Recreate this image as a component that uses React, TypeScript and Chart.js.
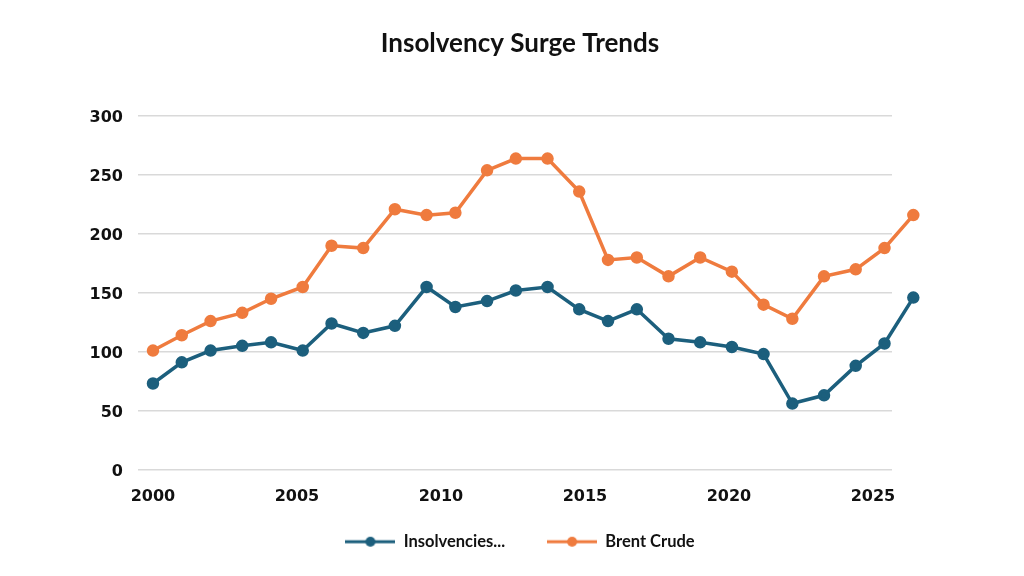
import React, { useEffect, useRef } from "react";
import { Chart, registerables } from "chart.js";

Chart.register(...registerables);

const xYears = [2000.0, 2001.0, 2002.0, 2003.1, 2004.1, 2005.2, 2006.2, 2007.3, 2008.4, 2009.5, 2010.5, 2011.6, 2012.6, 2013.7, 2014.8, 2015.8, 2016.8, 2017.9, 2019.0, 2020.1, 2021.2, 2022.2, 2023.3, 2024.4, 2025.4, 2026.4];
const insolvencies = [73, 91, 101, 105, 108, 101, 124, 116, 122, 155, 138, 143, 152, 155, 136, 126, 136, 111, 108, 104, 98, 56, 63, 88, 107, 146];
const brentCrude = [101, 114, 126, 133, 145, 155, 190, 188, 221, 216, 218, 254, 264, 264, 236, 178, 180, 164, 180, 168, 140, 128, 164, 170, 188, 216];
const xTickYears = [2000, 2005, 2010, 2015, 2020, 2025];
const seriesNames = ["Insolvencies...", "Brent Crude"];
const titleText = "Insolvency Surge Trends";

const BLUE = "#1c5f7d";
const ORANGE = "#ef7b3e";

function legendIcon(color: string): HTMLCanvasElement {
  const c = document.createElement("canvas");
  c.width = 50;
  c.height = 12;
  const ctx = c.getContext("2d")!;
  ctx.strokeStyle = color;
  ctx.lineWidth = 3;
  ctx.beginPath();
  ctx.moveTo(0, 6);
  ctx.lineTo(50, 6);
  ctx.stroke();
  ctx.fillStyle = color;
  ctx.beginPath();
  ctx.arc(25, 6, 5, 0, Math.PI * 2);
  ctx.fill();
  return c;
}

// let points just beyond the right edge of the gridlines still be drawn
const widenAreaPlugin = {
  id: "widenArea",
  afterLayout(chart: any) {
    // give the x tick labels room so they are not clipped
    const xs = chart.scales.x;
    if (xs) xs.bottom = xs.top + 40;
  },
  beforeDatasetsDraw(chart: any) {
    chart.$savedArea = chart.chartArea;
    chart.chartArea = { ...chart.chartArea, right: chart.chartArea.right + 60 };
  },
  afterDatasetsDraw(chart: any) {
    if (chart.$savedArea) chart.chartArea = chart.$savedArea;
  },
};

export default function App() {
  const ref = useRef<HTMLCanvasElement>(null);

  useEffect(() => {
    document.body.style.margin = "0";
    if (!ref.current) return;
    const icons = [legendIcon(BLUE), legendIcon(ORANGE)];
    const chart = new Chart(ref.current, {
      type: "line",
      data: {
        datasets: [
          {
            label: seriesNames[0],
            data: xYears.map((x, i) => ({ x, y: insolvencies[i] })),
            borderColor: BLUE,
            backgroundColor: BLUE,
            borderWidth: 3.5,
            pointRadius: 4.5,
            pointHoverRadius: 4.5,
            tension: 0,
            clip: false as any,
          },
          {
            label: seriesNames[1],
            data: xYears.map((x, i) => ({ x, y: brentCrude[i] })),
            borderColor: ORANGE,
            backgroundColor: ORANGE,
            borderWidth: 3.5,
            pointRadius: 4.5,
            pointHoverRadius: 4.5,
            tension: 0,
            clip: false as any,
          },
        ],
      },
      plugins: [widenAreaPlugin],
      options: {
        animation: false,
        responsive: false,
        maintainAspectRatio: false,
        layout: { padding: { left: 16, right: 0, top: 0, bottom: 16 } },
        plugins: {
          tooltip: { enabled: false },
          title: {
            display: true,
            text: titleText,
            color: "#111111",
            font: { family: "Lato", size: 26, weight: "bold" },
            padding: { top: 28, bottom: 57 },
          },
          legend: {
            display: true,
            position: "bottom",
            labels: {
              usePointStyle: true,
              pointStyleWidth: 50,
              padding: 42,
              color: "#111111",
              font: { family: "Lato", size: 16.5, weight: "bold" },
              generateLabels: (ch: any) =>
                ch.data.datasets.map((ds: any, i: number) => ({
                  text: ds.label,
                  fillStyle: ds.borderColor,
                  strokeStyle: ds.borderColor,
                  fontColor: "#111111",
                  pointStyle: icons[i],
                  lineWidth: 0,
                  hidden: false,
                  datasetIndex: i,
                })),
            },
          },
        },
        scales: {
          x: {
            type: "linear",
            min: 1999.48,
            max: 2025.66,
            grid: { display: false, drawTicks: false },
            border: { display: false },
            afterBuildTicks: (scale: any) => {
              scale.ticks = xTickYears.map((v) => ({ value: v }));
            },
            afterFit: (scale: any) => {
              scale.height = 22;
            },
            ticks: {
              padding: 18,
              color: "#111111",
              font: { family: "DejaVu Sans", size: 16, weight: "bold" },
              maxRotation: 0,
              autoSkip: false,
              callback: (v: any) => String(v),
            },
          },
          y: {
            min: 0,
            max: 300,
            grid: { color: "#d9d9d9", lineWidth: 1.5, drawTicks: false },
            border: { display: false },
            afterFit: (scale: any) => {
              scale.width = 122;
            },
            ticks: {
              stepSize: 50,
              padding: 15,
              labelOffset: 2,
              color: "#111111",
              font: { family: "DejaVu Sans", size: 16, weight: "bold" },
            },
          },
          yRight: {
            position: "right",
            min: 0,
            max: 300,
            grid: { display: false, drawTicks: false },
            border: { display: false },
            ticks: { display: false },
            afterFit: (scale: any) => {
              scale.width = 132;
            },
          },
        },
      },
    });
    return () => chart.destroy();
  }, []);

  return (
    <div style={{ width: 1024, height: 576, background: "#ffffff" }}>
      <canvas ref={ref} width={1024} height={576} style={{ display: "block" }} />
    </div>
  );
}
